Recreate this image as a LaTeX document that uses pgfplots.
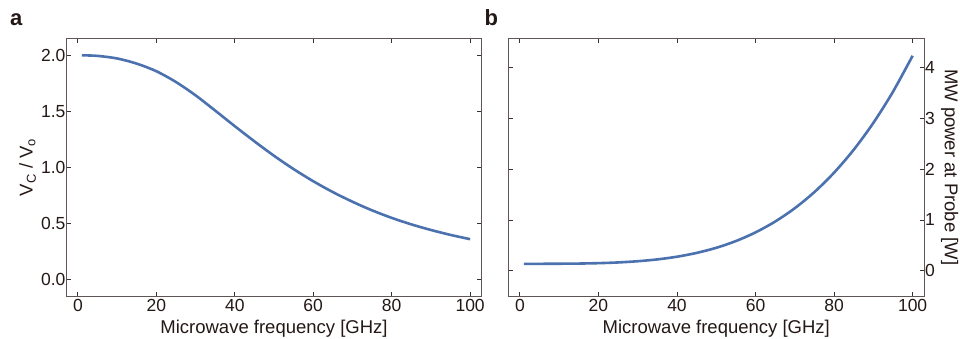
\documentclass[border=0pt]{standalone}
\usepackage{fontspec}
\setmainfont{Liberation Sans}
\usepackage{pgfplots}
\pgfplotsset{compat=1.18}

\definecolor{txt}{HTML}{231815}
\definecolor{frame}{HTML}{5F5555}
\definecolor{tickc}{HTML}{3A3030}
\definecolor{curve}{HTML}{4B72AE}

% cutoff voltage ratio vs frequency
\pgfplotstableread{
f    v
1    2.000
5    1.995
10   1.972
15   1.926
20   1.858
25   1.762
30   1.643
35   1.507
40   1.368
45   1.233
50   1.104
55   0.985
60   0.877
65   0.780
70   0.694
75   0.617
80   0.550
85   0.492
90   0.442
95   0.398
100  0.360
}\ratiotable

% microwave power needed at the probe
\pgfplotstableread{
f    p
1    0.135
5    0.135
10   0.137
15   0.140
20   0.148
25   0.162
30   0.186
35   0.222
40   0.275
45   0.350
50   0.451
55   0.584
60   0.755
65   0.969
70   1.232
75   1.551
80   1.933
85   2.385
90   2.915
95   3.530
100  4.240
}\powertable

\pgfplotsset{
  panel/.style={
    scale only axis,
    width=415pt, height=257.5pt,
    xmin=-2.9, xmax=102.9,
    xtick={0,20,...,100},
    tick align=inside,
    major tick length=4.5pt,
    axis line style={draw=frame, line width=0.8pt},
    major tick style={draw=tickc, line width=0.8pt},
    /pgf/number format/assume math mode=true,
    tick label style={font=\fontsize{17.5}{18}\selectfont, text=txt},
    label style={font=\fontsize{18.5}{20}\selectfont, text=txt},
    xlabel={Microwave frequency [GHz]},
    xlabel style={at={(axis description cs:0.5,0)}, anchor=base, yshift=-37pt},
  },
}

\begin{document}
\begin{tikzpicture}
\useasboundingbox (0,0) rectangle (960pt,338pt);

\node[anchor=base west, inner sep=0pt, text=txt,
      font=\fontsize{22}{24}\selectfont\bfseries] at (10pt,312pt) {a};
\node[anchor=base west, inner sep=0pt, text=txt,
      font=\fontsize{22}{24}\selectfont\bfseries] at (484.5pt,312pt) {b};

\begin{axis}[panel,
  at={(66.5pt,42pt)}, anchor=south west,
  ymin=-0.147, ymax=2.15,
  ytick={0,0.5,...,2},
  yticklabel style={xshift=2.5pt,
    /pgf/number format/.cd, fixed, fixed zerofill, precision=1},
  ylabel={V\textsubscript{C} / V\textsubscript{o}},
  ylabel style={at={(axis description cs:-0.0814,0.5)}, anchor=base},
]
\addplot[curve, line width=2.6pt, smooth] table[x=f, y=v] {\ratiotable};
\end{axis}

\begin{axis}[panel,
  at={(508.5pt,42pt)}, anchor=south west,
  width=415.5pt,
  ymin=-0.5, ymax=4.58,
  ytick={0,1,...,4},
  yticklabel pos=right,
  yticklabel style={xshift=-2.5pt},
  ylabel={MW power at Probe [W]},
  ylabel style={at={(axis description cs:1.0505,0.5)}, anchor=base, rotate=180},
]
\addplot[curve, line width=2.6pt, smooth] table[x=f, y=p] {\powertable};
\end{axis}
\end{tikzpicture}
\end{document}
